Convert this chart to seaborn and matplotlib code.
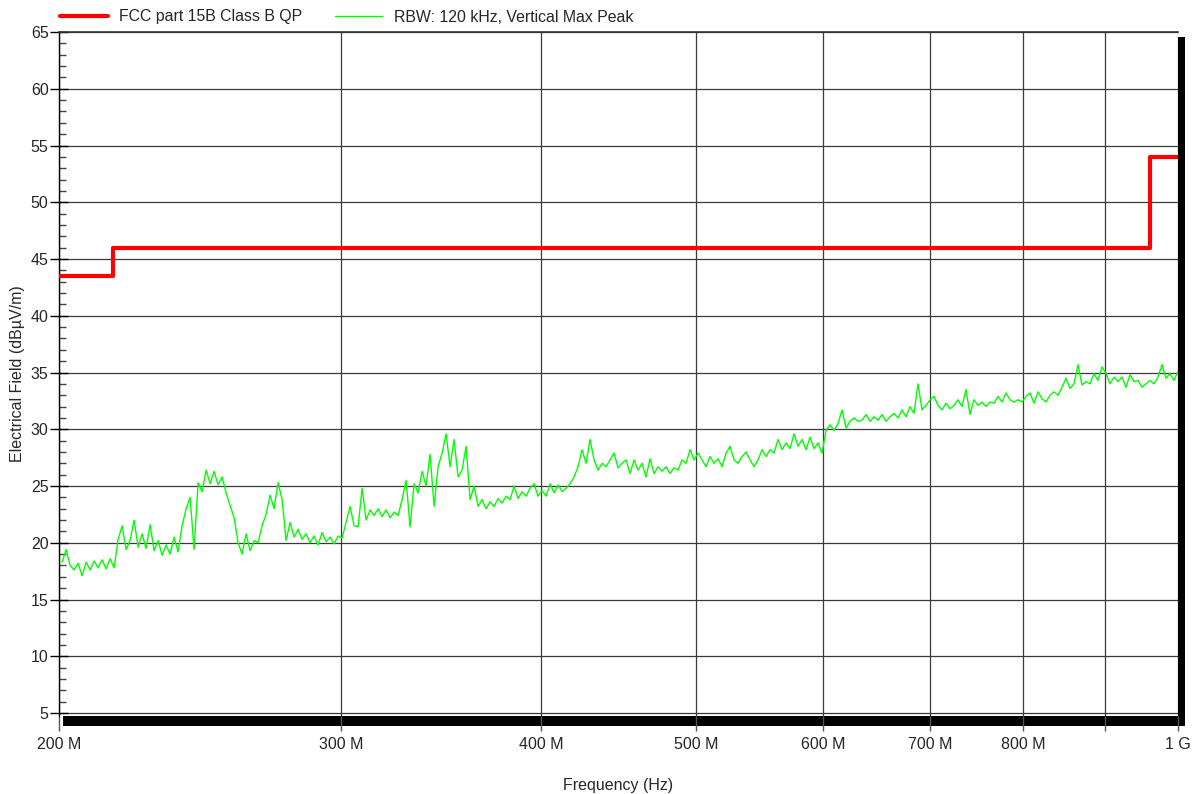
import numpy as np
import pandas as pd
import matplotlib
matplotlib.use('Agg')
import matplotlib.pyplot as plt
from matplotlib.patches import Rectangle
from matplotlib.ticker import FixedLocator, FixedFormatter, MultipleLocator
import seaborn as sns

# FCC part 15B class B QP limit (step edges, Hz / dBuV/m)
limit_freq = [200e6, 216e6, 960e6, 1000e6]
limit_level = [43.5, 46.0, 54.0, 54.0]

trace_200_300 = [
    18.3, 19.4, 18.0, 17.6, 18.2, 17.1, 18.3, 17.6, 18.4, 17.8,
    18.5, 17.7, 18.6, 17.8, 20.3, 21.5, 19.4, 20.2, 22.0, 19.6,
    20.8, 19.5, 21.6, 19.3, 20.2, 18.9, 19.8, 19.0, 20.5, 19.2,
    21.5, 23.0, 24.0, 19.4, 25.3, 24.5, 26.4, 25.2, 26.3, 25.1,
    25.8, 24.4, 23.3, 22.2, 20.0, 19.0, 20.8, 19.3, 20.2, 20.0,
    21.5, 22.5, 24.2, 23.0, 25.3, 23.8, 20.2, 21.8, 20.5, 21.2,
    20.3, 20.8, 20.0, 20.6, 19.8, 20.9, 20.1, 20.5, 19.9, 20.6,
    20.4, 21.8, 23.2, 21.5]
trace_300_450 = [
    21.4, 24.8, 22.0, 22.9, 22.4, 23.0, 22.3, 22.9, 22.2, 22.7,
    22.4, 23.8, 25.5, 21.4, 25.2, 24.4, 26.3, 25.0, 27.8, 23.2,
    26.7, 27.9, 29.6, 26.7, 29.1, 25.8, 26.4, 28.5, 23.8, 25.0,
    23.2, 23.8, 23.0, 23.6, 23.2, 23.9, 23.5, 24.1, 23.8, 25.0,
    23.9, 24.5, 24.1, 24.8, 25.2, 24.1, 24.6, 24.1, 25.2, 24.4,
    25.1, 24.5, 24.8, 25.2, 25.8, 26.7, 28.2, 27.0, 29.1, 27.3,
    26.4, 27.0, 26.7, 27.3, 27.9, 26.6, 27.0]
trace_450_700 = [
    27.3, 26.1, 27.3, 26.4, 27.0, 25.8, 27.4, 26.1, 26.7, 26.3,
    26.7, 26.1, 26.6, 26.4, 27.3, 27.0, 28.2, 27.3, 27.9, 27.3,
    26.7, 27.6, 27.0, 27.4, 26.7, 27.9, 28.5, 27.3, 27.0, 27.6,
    28.0, 27.3, 26.7, 27.3, 28.2, 27.6, 28.2, 27.9, 29.1, 28.2,
    28.8, 28.3, 29.6, 28.5, 29.1, 28.2, 29.3, 28.3, 28.8, 27.9,
    29.9, 30.4, 29.9, 30.5, 31.7, 30.1, 30.7, 31.0, 30.7, 30.8,
    31.3, 30.7, 31.1, 30.8, 31.3, 30.7, 31.1, 31.4, 31.0, 31.7,
    31.1, 32.0, 31.4, 34.0]
trace_700_1000 = [
    31.7, 32.1, 32.6, 32.9, 32.1, 31.7, 32.3, 31.8, 32.1, 32.6,
    32.0, 33.5, 31.3, 32.6, 32.1, 32.4, 32.0, 32.4, 32.3, 32.9,
    32.4, 33.2, 32.6, 32.4, 32.6, 32.4, 32.9, 33.2, 32.3, 33.3,
    32.7, 32.4, 33.0, 33.3, 33.0, 33.7, 34.5, 33.6, 34.0, 35.7,
    33.9, 34.2, 34.0, 34.9, 34.3, 35.5, 34.9, 34.0, 34.6, 34.2,
    34.6, 33.7, 34.8, 34.2, 34.3, 33.7, 34.0, 34.3, 34.0, 34.6,
    35.7, 34.5, 34.9, 34.3, 35.1]

x_ticks = [200e6, 300e6, 400e6, 500e6, 600e6, 700e6, 800e6, 1e9]
x_tick_labels = ['200 M', '300 M', '400 M', '500 M', '600 M', '700 M', '800 M', '1 G']

trace_level = np.concatenate([trace_200_300, trace_300_450, trace_450_700, trace_700_1000])
# analyser sweep points, log spaced across the span
trace_freq = np.geomspace(200.9e6, 1e9, len(trace_level))

trace = pd.DataFrame({'freq': trace_freq, 'level': trace_level})
limit = pd.DataFrame({'freq': limit_freq, 'level': limit_level})

sns.set_theme(style='white')
plt.rcParams['font.family'] = ['Liberation Sans', 'DejaVu Sans']

W, H = 1197, 794
fig = plt.figure(figsize=(W / 100, H / 100), dpi=100)
ax = fig.add_axes([59 / W, 1 - 716 / H, (1178 - 59) / W, (716 - 32) / H])

# drop shadow behind the plot box
fig.patches.append(Rectangle((63 / W, 1 - 726 / H), (1185 - 63) / W, (726 - 37) / H,
                             transform=fig.transFigure, facecolor='black',
                             edgecolor='none', zorder=-1))

sns.lineplot(data=trace, x='freq', y='level', ax=ax, color='#00ff00', lw=1.0,
             estimator=None, sort=False, label='RBW: 120 kHz, Vertical Max Peak', zorder=3)
sns.lineplot(data=limit, x='freq', y='level', ax=ax, color='#ff0000', lw=3,
             estimator=None, sort=False, drawstyle='steps-post',
             label='FCC part 15B Class B QP', zorder=4)

ax.set_xscale('log')
ax.set_xlim(200e6, 1e9)
ax.set_ylim(4.74, 65)

ax.xaxis.set_major_locator(FixedLocator(x_ticks))
ax.xaxis.set_major_formatter(FixedFormatter(x_tick_labels))
ax.xaxis.set_minor_locator(FixedLocator([900e6]))
ax.xaxis.set_minor_formatter(FixedFormatter(['']))
ax.yaxis.set_major_locator(MultipleLocator(5))
ax.yaxis.set_minor_locator(MultipleLocator(1))

ax.tick_params(axis='x', which='both', direction='out', length=11, width=1,
               color='#555555', labelsize=11.5, pad=4, bottom=True)
ax.tick_params(axis='y', which='major', direction='inout', length=13, width=1,
               color='black', labelsize=11.5, pad=1, left=True)
ax.tick_params(axis='y', which='minor', direction='in', length=5, width=1,
               color='#444444', left=True)

ax.xaxis.grid(True, which='both', color='#3a3a3a', lw=0.9)
ax.yaxis.grid(True, which='major', color='#3a3a3a', lw=0.9)
ax.set_axisbelow(True)

for side in ['right', 'bottom']:
    ax.spines[side].set_visible(False)
ax.spines['left'].set_color('black')
ax.spines['left'].set_linewidth(1)
ax.spines['top'].set_color('#333333')
ax.spines['top'].set_linewidth(1.2)

ax.set_xlabel('Frequency (Hz)', fontsize=11.5, labelpad=19)
ax.set_ylabel('Electrical Field (dBµV/m)', fontsize=11.5, labelpad=4)

handles, labels = ax.get_legend_handles_labels()
ax.get_legend().remove()
order = [1, 0]
fig.legend([handles[i] for i in order], [labels[i] for i in order],
           loc='center left', bbox_to_anchor=(60 / W, 1 - 17 / H), ncol=2,
           frameon=False, fontsize=11.4, handlelength=3.0, handletextpad=0.7,
           columnspacing=2.1, borderpad=0, borderaxespad=0)

fig.savefig('out.png', dpi=100)
